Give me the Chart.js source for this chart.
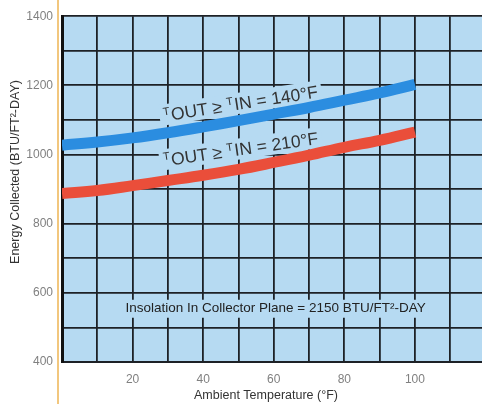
<!DOCTYPE html>
<html>
<head>
<meta charset="utf-8">
<script src="https://cdn.jsdelivr.net/npm/chart.js@4/dist/chart.umd.min.js"></script>
<style>
  html, body { margin: 0; padding: 0; background: #fff; }
  #wrap { width: 482px; height: 404px; position: relative; }
</style>
</head>
<body>
<div id="wrap"><canvas id="chart" width="482" height="404"></canvas></div>
<script>
// ambient temperature (°F) at which the curves were read
const ambientF = [0, 10, 20, 30, 40, 50, 60, 70, 80, 90, 100];
// energy collected (BTU/FT²-DAY)
const tin140 = [1027, 1036, 1048, 1063, 1080, 1098, 1117, 1136, 1157, 1178, 1203];
const tin210 = [887, 896, 910, 925, 940, 957, 977, 998, 1021, 1041, 1065];

const xTickLabels = [20, 40, 60, 80, 100];
const yTickLabels = [400, 600, 800, 1000, 1200, 1400];

const curveLabels = [
  { x: 29, y: 1096, angle: -8.8, parts: ["T", "OUT ≥ ", "T", "IN = 140°F"] },
  { x: 29, y: 966, angle: -8.2, parts: ["T", "OUT ≥ ", "T", "IN = 210°F"] },
];
const noteText = "Insolation In Collector Plane = 2150 BTU/FT²-DAY";
const notePos = { x: 60.5, y: 554 };

const FONT = '"Liberation Sans", Arial, Helvetica, sans-serif';
const PLOT_BG = "#b6daf2";
const GRID = "#1d2126";
const INK = "#333";

function pts(xs, ys){ return xs.map((x, i) => ({ x, y: ys[i] })); }

// plot background + paper edge line
const backdrop = {
  id: "backdrop",
  beforeDraw(chart){
    const { ctx, chartArea: a } = chart;
    ctx.save();
    ctx.fillStyle = PLOT_BG;
    ctx.fillRect(a.left, a.top, a.right - a.left, a.bottom - a.top);
    ctx.restore();
  },
  afterDraw(chart){
    const { ctx, chartArea: a } = chart;
    ctx.save();
    ctx.strokeStyle = "#f2c77e";
    ctx.lineWidth = 2;
    ctx.beginPath();
    ctx.moveTo(a.left - 4, 0);
    ctx.lineTo(a.left - 4, chart.height);
    ctx.stroke();

    // axis titles
    ctx.fillStyle = INK;
    ctx.font = `12.5px ${FONT}`;
    ctx.textAlign = "center";
    ctx.textBaseline = "middle";
    ctx.fillText("Ambient Temperature (°F)", 266, 396);
    ctx.translate(16, 172);
    ctx.rotate(-Math.PI / 2);
    ctx.fillText("Energy Collected (BTU/FT²-DAY)", 0, 0);
    ctx.restore();
  }
};

// curve labels and the insolation note, each on a patch that hides the grid
const notes = {
  id: "notes",
  beforeDatasetsDraw(chart){
    const { ctx, scales: { x, y } } = chart;
    ctx.save();

    for (const lab of curveLabels){
      const px = x.getPixelForValue(lab.x);
      const py = y.getPixelForValue(lab.y);
      const big = `17.5px ${FONT}`, small = `11px ${FONT}`;
      let w = 0;
      lab.parts.forEach((p, i) => { ctx.font = i % 2 === 0 ? small : big; w += ctx.measureText(p).width + (i % 2 === 0 ? 1 : 0); });

      ctx.save();
      ctx.translate(px, py);
      ctx.rotate(lab.angle * Math.PI / 180);
      ctx.fillStyle = PLOT_BG;
      ctx.fillRect(-4, -17, w + 8, 21);
      ctx.fillStyle = INK;
      ctx.textBaseline = "alphabetic";
      let cx = 0;
      lab.parts.forEach((p, i) => {
        const isSmall = i % 2 === 0;
        ctx.font = isSmall ? small : big;
        ctx.fillText(p, cx, isSmall ? -6 : 0);
        cx += ctx.measureText(p).width + (isSmall ? 1 : 0);
      });
      ctx.restore();
    }

    ctx.font = `13.5px ${FONT}`;
    const nw = ctx.measureText(noteText).width;
    const nx = x.getPixelForValue(notePos.x);
    const ny = y.getPixelForValue(notePos.y);
    ctx.fillStyle = PLOT_BG;
    ctx.fillRect(nx - nw / 2 - 3, ny - 9, nw + 6, 18);
    ctx.fillStyle = "#222";
    ctx.textAlign = "center";
    ctx.textBaseline = "middle";
    ctx.fillText(noteText, nx, ny);
    ctx.restore();
  }
};

new Chart(document.getElementById("chart"), {
  type: "line",
  data: {
    datasets: [
      { label: "140", data: pts(ambientF, tin140), borderColor: "#2b8de0", borderWidth: 11,
        pointRadius: 0, tension: 0.4, borderCapStyle: "butt" },
      { label: "210", data: pts(ambientF, tin210), borderColor: "#ea4e3a", borderWidth: 11,
        pointRadius: 0, tension: 0.4, borderCapStyle: "butt" },
    ]
  },
  options: {
    responsive: false,
    animation: false,
    layout: { padding: { top: 13, left: 0, right: 0, bottom: 0 } },
    plugins: { legend: { display: false }, tooltip: { enabled: false } },
    scales: {
      x: {
        type: "linear", min: 0, max: 119,
        afterBuildTicks(s){ s.ticks = s.ticks.filter(t => t.value % 10 === 0); },
        afterFit(s){ s.height = 42; },
        ticks: {
          stepSize: 10, autoSkip: false, maxRotation: 0, padding: 10,
          color: "#808080", font: { family: FONT, size: 12 },
          callback: v => xTickLabels.includes(v) ? String(v) : ""
        },
        grid: { color: GRID, lineWidth: 1.8, drawTicks: false },
        border: { color: GRID, width: 2 }
      },
      y: {
        min: 400, max: 1400,
        afterFit(s){ s.width = 62; },
        ticks: {
          stepSize: 100, padding: 9,
          color: "#808080", font: { family: FONT, size: 12 },
          callback: v => yTickLabels.includes(v) ? String(v) : ""
        },
        grid: { color: GRID, lineWidth: 1.8, drawTicks: false },
        border: { color: "#111", width: 3 }
      }
    }
  },
  plugins: [backdrop, notes]
});
</script>
</body>
</html>
